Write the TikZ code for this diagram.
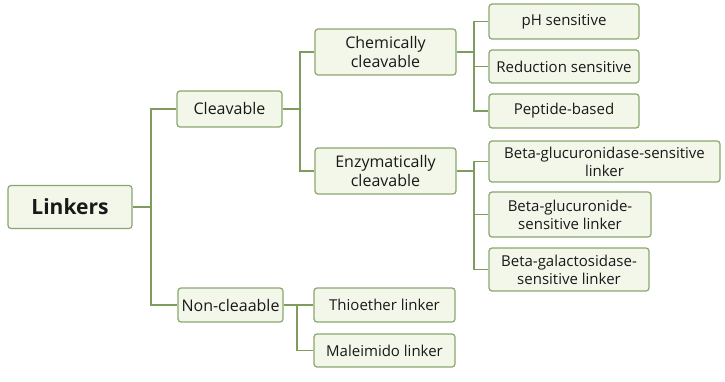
\documentclass[tikz,border=0pt]{standalone}
\usepackage{fontspec}
\setmainfont{Open Sans}
\definecolor{boxline}{HTML}{8AA66E}
\definecolor{boxfill}{HTML}{F3F7EA}
\definecolor{conn}{HTML}{7D9C5D}
\begin{document}
\begin{tikzpicture}[x=1pt,y=-1pt,
  box/.style={draw=boxline,fill=boxfill,line width=1.2pt,rounded corners=3pt,align=center,inner sep=0pt,
    font=\fontsize{15}{18}\selectfont,text=black!90},
  mid/.style={box,font=\fontsize{16}{18.5}\selectfont},
  wire/.style={draw=conn,line width=1.2pt}]
\useasboundingbox (0,0) rectangle (725,382);
\node[box,minimum width=124pt,minimum height=43pt,font=\fontsize{21}{24}\selectfont\bfseries] (L) at (70,207) {Linkers};
\node[mid,minimum width=105pt,minimum height=36pt] (C) at (229.5,109) {Cleavable};
\node[mid,minimum width=105pt,minimum height=34pt] (N) at (230.5,305) {Non-cleaable};
\node[mid,minimum width=141pt,minimum height=46pt] (CC) at (385.5,52) {Chemically\\cleavable};
\node[mid,minimum width=141pt,minimum height=46pt] (EC) at (385.5,171) {Enzymatically\\cleavable};
\node[box,minimum width=150pt,minimum height=35pt] (pH) at (564,21.5) {pH sensitive};
\node[box,minimum width=150pt,minimum height=33pt] (Red) at (564,66.5) {Reduction sensitive};
\node[box,minimum width=150pt,minimum height=34pt] (Pep) at (564,111) {Peptide-based};
\node[box,minimum width=231pt,minimum height=41pt] (BG1) at (604.5,161.5) {Beta-glucuronidase-sensitive\\linker};
\node[box,minimum width=162pt,minimum height=45pt] (BG2) at (570,214.5) {Beta-glucuronide-\\sensitive linker};
\node[box,minimum width=160pt,minimum height=43pt] (BG3) at (569,269.5) {Beta-galactosidase-\\sensitive linker};
\node[box,minimum width=141pt,minimum height=34pt] (Th) at (384.5,305) {Thioether linker};
\node[box,minimum width=141pt,minimum height=33pt] (Mal) at (384.5,350.5) {Maleimido linker};
\coordinate (t1) at (151,207);
\coordinate (t2) at (300,109);
\coordinate (t3) at (474,52);
\coordinate (t4) at (474,171);
\coordinate (t5) at (297,305);
\draw[wire] (L.east) -- (t1) |- (C.west);
\draw[wire] (t1) |- (N.west);
\draw[wire] (C.east) -- (t2) |- (CC.west);
\draw[wire] (t2) |- (EC.west);
\draw[wire] (CC.east) -- (t3) |- (pH.west);
\draw[wire] (t3) |- (Red.west);
\draw[wire] (t3) |- (Pep.west);
\draw[wire] (EC.east) -- (t4) |- (BG1.west);
\draw[wire] (t4) |- (BG2.west);
\draw[wire] (t4) |- (BG3.west);
\draw[wire] (N.east) -- (t5) -- (Th.west);
\draw[wire] (t5) |- (Mal.west);
\end{tikzpicture}
\end{document}
